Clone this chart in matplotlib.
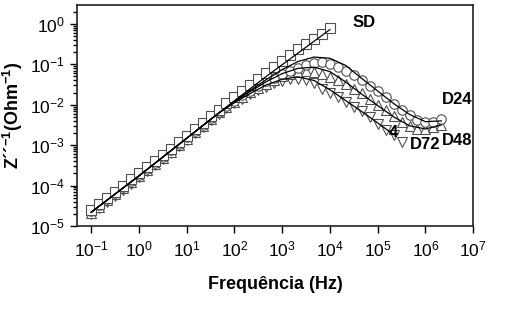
import numpy as np
import matplotlib.pyplot as plt

plt.rcParams['font.family'] = ['Liberation Sans', 'DejaVu Sans']
plt.rcParams['mathtext.fontset'] = 'custom'
plt.rcParams['mathtext.rm'] = 'Liberation Sans'
plt.rcParams['mathtext.bf'] = 'Liberation Sans:bold'
plt.rcParams['mathtext.it'] = 'Liberation Sans:italic'

# log10 of frequency, 6 points per decade starting at 0.1 Hz
logf = -1 + np.arange(45) / 6.0

# log10 of Z''^-1
sd = [-4.60, -4.45, -4.30, -4.15, -4.00, -3.85, -3.70, -3.55, -3.40, -3.25,
      -3.09, -2.93, -2.77, -2.61, -2.45, -2.28, -2.12, -1.96, -1.80, -1.65,
      -1.51, -1.36, -1.21, -1.07, -0.92, -0.78, -0.63, -0.50, -0.37, -0.24,
      -0.09]
d24 = [-4.64, -4.49, -4.34, -4.19, -4.04, -3.89, -3.74, -3.59, -3.44, -3.29,
       -3.13, -2.97, -2.81, -2.66, -2.50, -2.33, -2.17, -2.04, -1.90, -1.77,
       -1.65, -1.53, -1.42, -1.33, -1.24, -1.16, -1.08, -1.01, -0.97, -0.95,
       -0.99, -1.07, -1.16, -1.27, -1.40, -1.53, -1.66, -1.82, -1.97, -2.12,
       -2.25, -2.37, -2.43, -2.42, -2.36]
d48 = [-4.67, -4.52, -4.37, -4.22, -4.07, -3.92, -3.77, -3.62, -3.47, -3.32,
       -3.16, -3.00, -2.84, -2.68, -2.52, -2.35, -2.19, -2.06, -1.93, -1.81,
       -1.69, -1.58, -1.48, -1.38, -1.30, -1.24, -1.19, -1.17, -1.19, -1.24,
       -1.31, -1.38, -1.49, -1.60, -1.72, -1.86, -2.00, -2.14, -2.27, -2.42,
       -2.53, -2.61, -2.60, -2.56, -2.49]
d72 = [-4.70, -4.55, -4.40, -4.25, -4.10, -3.95, -3.80, -3.65, -3.50, -3.35,
       -3.19, -3.03, -2.87, -2.71, -2.55, -2.38, -2.22, -2.08, -1.96, -1.85,
       -1.74, -1.64, -1.55, -1.47, -1.41, -1.37, -1.36, -1.40, -1.47, -1.60,
       -1.71, -1.82, -1.94, -2.05, -2.15, -2.31, -2.47, -2.62, -2.76, -2.92]

# fitted curves, 3 points per decade
logf_fit = -1 + np.arange(23) / 3.0
sd_fit = [-4.66, -4.36, -4.06, -3.76, -3.45, -3.14, -2.83, -2.52, -2.21, -1.90,
          -1.60, -1.30, -1.01, -0.72, -0.43, -0.14]
d24_fit = [-4.66, -4.36, -4.06, -3.76, -3.45, -3.14, -2.83, -2.52, -2.21, -1.92,
           -1.64, -1.38, -1.13, -0.93, -0.82, -0.85, -1.03, -1.35, -1.66, -1.97,
           -2.24, -2.42, -2.40]
d48_fit = [-4.66, -4.36, -4.06, -3.76, -3.45, -3.14, -2.83, -2.52, -2.21, -1.93,
           -1.67, -1.43, -1.23, -1.10, -1.07, -1.18, -1.44, -1.74, -2.02, -2.30,
           -2.52, -2.60, -2.50]
d72_fit = [-4.66, -4.36, -4.06, -3.76, -3.45, -3.14, -2.83, -2.52, -2.21, -1.95,
           -1.72, -1.51, -1.37, -1.31, -1.40, -1.63, -1.90, -2.17, -2.45, -2.74]


fig = plt.figure(figsize=(5.16, 3.27), dpi=100)
ax = fig.add_axes([0.149, 0.309, 0.768, 0.676])

mk = dict(ls='none', mfc='white', mec='#505050', mew=0.8, ms=6.8)
ax.plot(10**logf[:len(d72)], 10**np.array(d72), marker='v', **mk)
ax.plot(10**logf[:len(d48)], 10**np.array(d48), marker='^', **mk)
ax.plot(10**logf[:len(d24)], 10**np.array(d24), marker='o', **mk)
ax.plot(10**logf[:len(sd)], 10**np.array(sd), marker='s', **mk)

for fit in [sd_fit, d24_fit, d48_fit, d72_fit]:
    ax.plot(10**logf_fit[:len(fit)], 10**np.array(fit), color='black', lw=0.9)

ax.set_xscale('log')
ax.set_yscale('log')
ax.set_xlim(10**-1.3, 1e7)
ax.set_ylim(1e-5, 10**0.47)
ax.set_xticks([10.0**k for k in range(-1, 8)])
ax.set_yticks([10.0**k for k in range(-5, 1)])
ax.tick_params(which='both', direction='out', top=False, right=False,
               labelsize=12.5, width=1)
ax.tick_params(which='major', length=5)
ax.tick_params(which='minor', length=3)
ax.tick_params(axis='x', pad=5)
for s in ax.spines.values():
    s.set_linewidth(1.2)
    s.set_color('#222222')

ax.set_xlabel('Frequência (Hz)', fontsize=13, fontweight='bold', labelpad=12)
ax.set_ylabel("Z´´$^{\\mathbf{-1}}$(Ohm$^{\\mathbf{-1}}$)", fontsize=13,
              fontweight='bold', labelpad=4)

tk = dict(fontsize=12, fontweight='bold', ha='left', va='center')
ax.text(3.0e4, 1.1, 'SD', **tk)
ax.text(2.2e6, 0.0136, 'D24', **tk)
ax.text(2.2e6, 0.0013, 'D48', **tk)
ax.text(4.7e5, 0.00103, 'D72', **tk)
ax.text(1.7e5, 0.0020, '4', **tk)

fig.savefig('out.png', dpi=100)
